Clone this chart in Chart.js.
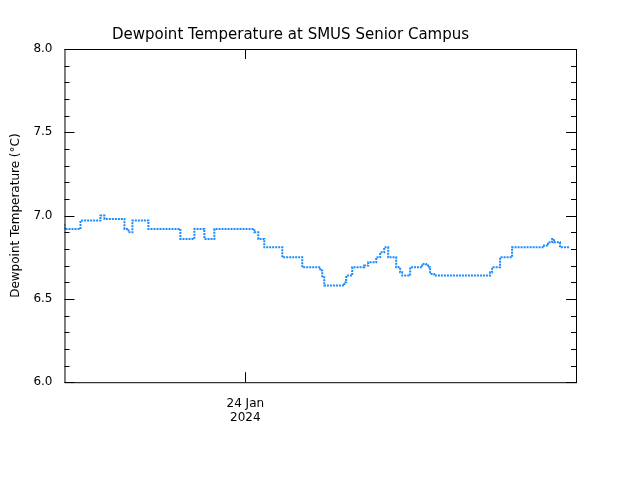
<!DOCTYPE html><html><head><script src="https://cdn.jsdelivr.net/npm/chart.js"></script>
<style>body{margin:0;background:#fff}#w{width:640px;height:480px}</style></head><body><div id="w"><canvas id="c"></canvas></div>
<script>
const timeX=[0,4,16,20,32,36,40,42,60,64,68,70,84,86,90,116,120,124,130,134,140,146,150,154,190,194,196,200,204,206,218,222,226,238,242,250,256,258,260,262,280,282,288,292,296,300,304,310,312,316,320,324,328,332,336,338,340,344,346,350,354,358,362,364,366,370,372,376,380,384,390,394,400,404,408,414,418,420,426,428,432,436,440,444,448,454,458,460,464,470,474,480,484,488,490,496,500,506];
const dewVals=[6.95,6.92,6.92,6.97,6.97,6.97,7.0,6.98,6.98,6.92,6.9,6.97,6.97,6.92,6.92,6.92,6.86,6.86,6.86,6.92,6.92,6.86,6.86,6.92,6.92,6.9,6.86,6.86,6.81,6.81,6.81,6.75,6.75,6.75,6.69,6.69,6.69,6.67,6.63,6.58,6.58,6.6,6.64,6.69,6.69,6.69,6.7,6.72,6.72,6.75,6.78,6.81,6.75,6.75,6.69,6.66,6.64,6.64,6.64,6.69,6.69,6.69,6.71,6.7,6.69,6.65,6.64,6.64,6.64,6.64,6.64,6.64,6.64,6.64,6.64,6.64,6.64,6.64,6.64,6.66,6.69,6.69,6.75,6.75,6.75,6.81,6.81,6.81,6.81,6.81,6.81,6.81,6.82,6.84,6.86,6.84,6.81,6.81];
const yTicks=[6.0,6.5,7.0,7.5,8.0];
const xTickPos=[181];const xTickLabel=[["24 Jan","2024"]];
const pts=timeX.map((x,i)=>({x:x,y:dewVals[i]}));
const tickPlug={id:'tp',afterDraw(ch){const c=ch.ctx,ys=ch.scales.y,xs=ch.scales.x,a=ch.chartArea;c.save();c.strokeStyle='#000';c.lineWidth=1;
c.strokeRect(a.left+.5,a.top+.5,a.right-a.left,a.bottom-a.top);
for(let v=60;v<=80;v++){const y=Math.round(ys.getPixelForValue(v/10))+.5;const L=v%5==0?10:5;c.beginPath();c.moveTo(a.left,y);c.lineTo(a.left+L,y);c.moveTo(a.right,y);c.lineTo(a.right-L,y);c.stroke();}
xTickPos.forEach(p=>{const x=Math.round(xs.getPixelForValue(p))+.5;c.beginPath();c.moveTo(x,a.bottom);c.lineTo(x,a.bottom-10);c.moveTo(x,a.top);c.lineTo(x,a.top+10);c.stroke();});
c.restore();}};
new Chart(document.getElementById('c'),{type:'scatter',data:{datasets:[{data:pts,showLine:true,stepped:'after',borderColor:'#1a8cff',borderWidth:2,borderDash:[2,1],pointRadius:0}]},
options:{animation:false,responsive:true,maintainAspectRatio:false,layout:{padding:{top:0,right:64,bottom:49,left:5}},
plugins:{legend:{display:false},tooltip:{enabled:false},title:{display:true,text:'Dewpoint Temperature at SMUS Senior Campus',color:'#000',font:{family:'DejaVu Sans',size:15,weight:'normal'},padding:{top:26,bottom:5}}},
scales:{x:{type:'linear',min:0,max:512,afterBuildTicks:s=>{s.ticks=xTickPos.map(v=>({value:v}))},ticks:{color:'#000',font:{family:'DejaVu Sans',size:12},callback:(v)=>{const i=xTickPos.indexOf(v);return i>=0?xTickLabel[i]:''},maxRotation:0,padding:6},grid:{display:false},border:{display:false}},
y:{min:6,max:8,afterBuildTicks:s=>{s.ticks=yTicks.map(v=>({value:v}))},ticks:{color:'#000',font:{family:'DejaVu Sans',size:12},callback:v=>v.toFixed(1),padding:4},grid:{display:false},border:{display:false},
title:{display:true,text:'Dewpoint Temperature (°C)',color:'#000',font:{family:'DejaVu Sans',size:12},padding:{bottom:6}}}}},plugins:[tickPlug]});
</script></body></html>
